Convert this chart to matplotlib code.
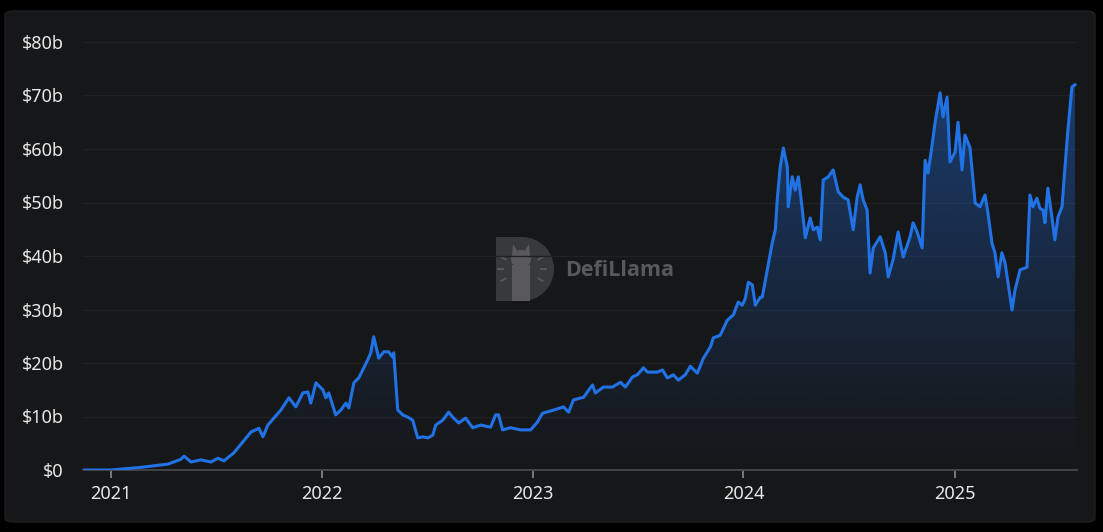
import numpy as np
import pandas as pd
import matplotlib
matplotlib.use("Agg")
import matplotlib.pyplot as plt
import matplotlib.dates as mdates
from matplotlib.patches import FancyBboxPatch, Rectangle, Wedge, Ellipse, Polygon

# TVL history: time in fractional years, value in $ billions
t_year = [
    2020.867, 2021.000, 2021.142, 2021.270, 2021.331, 2021.346, 2021.379, 2021.426,
    2021.473, 2021.507, 2021.535, 2021.582, 2021.663, 2021.701, 2021.720, 2021.743,
    2021.805, 2021.843, 2021.876, 2021.909, 2021.933, 2021.947, 2021.971, 2022.004,
    2022.018, 2022.032, 2022.065, 2022.089, 2022.113, 2022.127, 2022.151, 2022.174,
    2022.217, 2022.231, 2022.245, 2022.269, 2022.293, 2022.316, 2022.335, 2022.340,
    2022.359, 2022.383, 2022.406, 2022.430, 2022.454, 2022.477, 2022.501, 2022.525,
    2022.539, 2022.572, 2022.600, 2022.624, 2022.648, 2022.681, 2022.714, 2022.752,
    2022.799, 2022.823, 2022.837, 2022.856, 2022.894, 2022.941, 2022.989, 2023.022,
    2023.045, 2023.098, 2023.145, 2023.169, 2023.192, 2023.240, 2023.282, 2023.296,
    2023.334, 2023.377, 2023.415, 2023.438, 2023.472, 2023.495, 2023.524, 2023.543,
    2023.590, 2023.614, 2023.637, 2023.666, 2023.689, 2023.722, 2023.746, 2023.779,
    2023.808, 2023.841, 2023.855, 2023.888, 2023.921, 2023.950, 2023.973, 2023.992,
    2024.007, 2024.021, 2024.040, 2024.054, 2024.078, 2024.087, 2024.111, 2024.134,
    2024.149, 2024.158, 2024.172, 2024.187, 2024.206, 2024.210, 2024.229, 2024.243,
    2024.258, 2024.277, 2024.291, 2024.314, 2024.329, 2024.348, 2024.362, 2024.376,
    2024.400, 2024.423, 2024.447, 2024.471, 2024.494, 2024.518, 2024.537, 2024.551,
    2024.565, 2024.584, 2024.598, 2024.613, 2024.646, 2024.670, 2024.684, 2024.707,
    2024.731, 2024.755, 2024.788, 2024.802, 2024.821, 2024.845, 2024.859, 2024.873,
    2024.892, 2024.906, 2024.930, 2024.944, 2024.963, 2024.977, 2025.001, 2025.015,
    2025.034, 2025.048, 2025.072, 2025.096, 2025.119, 2025.143, 2025.157, 2025.176,
    2025.190, 2025.205, 2025.223, 2025.238, 2025.252, 2025.271, 2025.285, 2025.309,
    2025.342, 2025.356, 2025.370, 2025.389, 2025.403, 2025.418, 2025.427, 2025.441,
    2025.460, 2025.474, 2025.489, 2025.508, 2025.522, 2025.536, 2025.555, 2025.569,
]
tvl_b = [
    0.0, 0.0, 0.5, 1.1, 2.0, 2.6, 1.5, 1.9,
    1.5, 2.2, 1.7, 3.2, 7.1, 7.8, 6.2, 8.4,
    11.2, 13.5, 11.8, 14.4, 14.6, 12.5, 16.3, 15.0,
    13.5, 14.4, 10.3, 11.2, 12.5, 11.6, 16.3, 17.2,
    20.6, 21.9, 24.9, 20.9, 22.1, 22.1, 21.1, 21.9,
    11.2, 10.3, 9.9, 9.3, 6.0, 6.2, 6.0, 6.5,
    8.4, 9.3, 10.8, 9.7, 8.8, 9.7, 7.9, 8.4,
    8.0, 10.3, 10.3, 7.5, 7.9, 7.5, 7.5, 9.0,
    10.6, 11.2, 11.8, 10.8, 13.1, 13.6, 15.9, 14.4,
    15.5, 15.5, 16.4, 15.5, 17.4, 17.8, 19.1, 18.3,
    18.3, 18.7, 17.2, 17.8, 16.8, 17.8, 19.4, 18.1,
    20.9, 23.0, 24.7, 25.2, 28.0, 29.0, 31.4, 30.8,
    32.1, 35.1, 34.6, 30.8, 32.3, 32.3, 37.4, 42.4,
    44.9, 50.5, 56.6, 60.2, 56.6, 49.2, 54.8, 52.3,
    54.8, 48.6, 43.4, 47.1, 44.9, 45.4, 43.0, 54.2,
    54.8, 56.1, 52.0, 51.0, 50.5, 44.9, 51.0, 53.3,
    50.5, 48.6, 36.8, 41.5, 43.6, 40.6, 36.1, 39.3,
    44.5, 39.8, 43.6, 46.2, 44.5, 41.5, 57.9, 55.5,
    60.7, 64.9, 70.5, 66.0, 69.7, 57.6, 59.4, 65.0,
    56.1, 62.6, 60.2, 49.9, 49.2, 51.4, 48.0, 42.4,
    40.6, 36.1, 40.6, 38.7, 35.0, 29.9, 33.6, 37.4,
    37.9, 51.4, 49.2, 50.8, 48.9, 48.6, 46.2, 52.7,
    47.3, 43.0, 47.3, 49.2, 56.6, 63.6, 71.6, 72.0,
]
years = [2021, 2022, 2023, 2024, 2025]
y_ticks = [0, 10, 20, 30, 40, 50, 60, 70, 80]
y_labels = ["$0", "$10b", "$20b", "$30b", "$40b", "$50b", "$60b", "$70b", "$80b"]

plt.rcParams["font.family"] = ["Noto Sans", "DejaVu Sans"]

LINE = "#2172e5"
PANEL = "#161719"

def to_date(t):
    t = np.asarray(t, dtype=float)
    return pd.Timestamp("2021-01-01") + pd.to_timedelta((t - 2021) * 365.25, unit="D")

dates = to_date(t_year)
vals = np.array(tvl_b)

W, H = 1103, 532
fig = plt.figure(figsize=(W / 100, H / 100), dpi=100, facecolor="black")

# rounded panel behind the chart
panel = FancyBboxPatch((5 / W, 10 / H), 1090 / W, 511 / H,
                       boxstyle="round,pad=0,rounding_size=0.008",
                       transform=fig.transFigure, facecolor=PANEL,
                       edgecolor="#1e1f22", lw=1, zorder=-5)
fig.patches.append(panel)

# DefiLlama watermark (drawn below the chart axes)
lg = fig.add_axes([496 / W, 231 / H, 58 / W, 64 / H], zorder=-1)
lg.set_xlim(0, 58)
lg.set_ylim(0, 64)
lg.axis("off")
lg.add_patch(Rectangle((0, 0), 26, 64, facecolor="#38393b", edgecolor="none"))
lg.add_patch(Wedge((26, 32), 32, -90, 90, facecolor="#38393b", edgecolor="none"))
lg.add_patch(Rectangle((16, 0), 18, 36, facecolor="#59595b", edgecolor="none"))
lg.add_patch(Ellipse((25, 42), 20, 18, facecolor="#59595b", edgecolor="none"))
lg.add_patch(Polygon([[16, 46], [17, 57], [22, 49]], facecolor="#59595b"))
lg.add_patch(Polygon([[34, 46], [33, 57], [28, 49]], facecolor="#59595b"))
for a in [150, 180, 210, 30, 0, -30]:
    r0, r1 = 19, 24
    ca, sa = np.cos(np.radians(a)), np.sin(np.radians(a))
    lg.plot([26 + r0 * ca, 26 + r1 * ca], [32 + r0 * sa, 32 + r1 * sa],
            color="#59595b", lw=1.3)
lg.text(69, 30, "DefiLlama", fontsize=15.5, fontweight="bold",
        family=["Open Sans", "DejaVu Sans"], color="#58595b",
        ha="left", va="center", clip_on=False)

ax = fig.add_axes([83 / W, 62 / H, 994 / W, 428 / H], zorder=1)
ax.set_facecolor("none")

x0 = to_date([2020.867])[0]
x1 = to_date([2025.579])[0]

# gradient fill under the line
fill = ax.fill_between(dates, vals, 0, facecolor="none", edgecolor="none")
grad = np.zeros((256, 1, 4))
grad[:, 0, 0:3] = matplotlib.colors.to_rgb(LINE)
grad[:, 0, 3] = np.linspace(0.45, 0.0, 256) ** 1.1
xn0, xn1 = mdates.date2num(x0), mdates.date2num(x1)
img = ax.imshow(grad, aspect="auto", extent=[xn0, xn1, 0, 72],
                origin="upper", zorder=1)
img.set_clip_path(fill.get_paths()[0], transform=ax.transData)

ax.plot(dates, vals, color=LINE, lw=2.2, zorder=3, solid_joinstyle="round")
ax.set_xlim(x0, x1)
ax.set_ylim(0, 80)

# axes styling
for s in ["top", "right", "left"]:
    ax.spines[s].set_visible(False)
ax.spines["bottom"].set_color("#4a4b4f")
ax.spines["bottom"].set_linewidth(1.2)
ax.set_yticks(y_ticks)
ax.set_yticklabels(y_labels)
ax.set_xticks([pd.Timestamp(f"{y}-01-01") for y in years])
ax.set_xticklabels([str(y) for y in years])
ax.tick_params(axis="y", length=0, pad=14, labelsize=13, labelcolor="#e8e8e8")
ax.tick_params(axis="x", length=6, width=1.2, color="#8a8a8a", pad=5,
               labelsize=13, labelcolor="#e8e8e8")
ax.grid(axis="y", color="#202125", lw=1)
ax.set_axisbelow(True)

fig.savefig("out.png", dpi=100, facecolor="black")
